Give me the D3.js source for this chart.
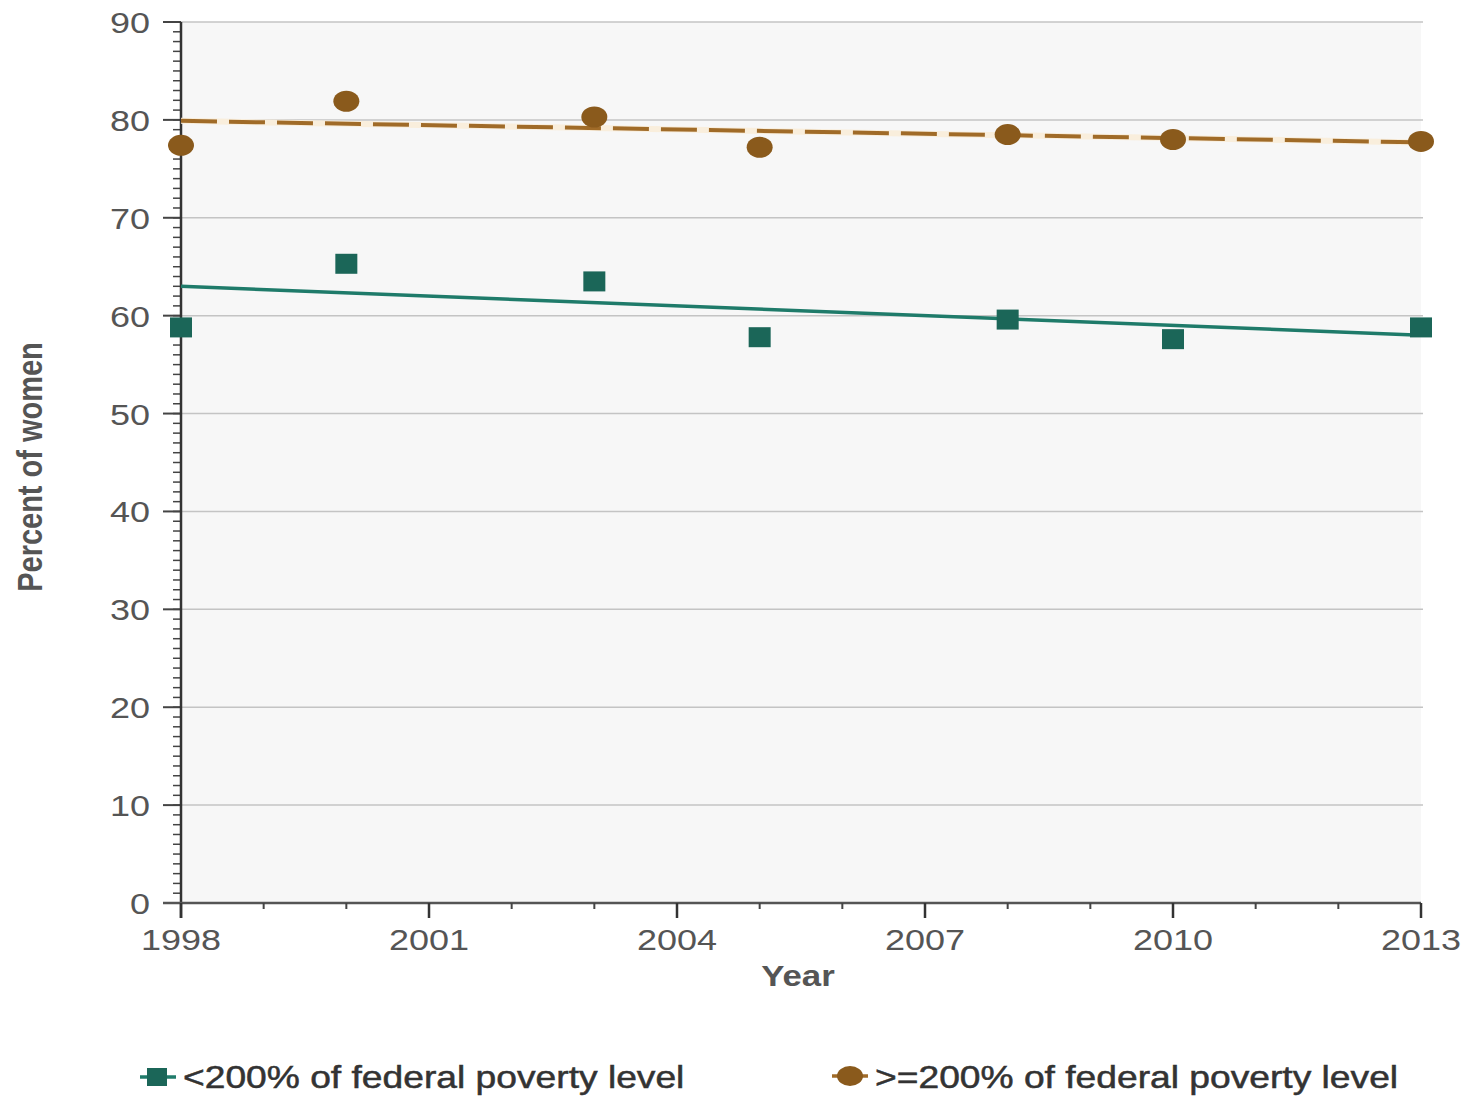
<!DOCTYPE html>
<html>
<head>
<meta charset="utf-8">
<script src="https://cdn.jsdelivr.net/npm/d3@7"></script>
<style>
  body { margin: 0; background: #fff; }
  svg text { font-family: "Liberation Sans", Arial, sans-serif; }
</style>
</head>
<body>
<svg width="1471" height="1097"></svg>
<script>
// data
const years = [1998, 2000, 2003, 2005, 2008, 2010, 2013]
const below200 = [58.8, 65.3, 63.5, 57.8, 59.6, 57.6, 58.8]
const above200 = [77.4, 81.9, 80.3, 77.2, 78.5, 78.0, 77.8]
const trendYears = [1998, 2013]
const belowTrend = [63.0, 58.0]
const aboveTrend = [79.9, 77.7]
const yTicks = [0, 10, 20, 30, 40, 50, 60, 70, 80, 90]
const xTicks = [1998, 2001, 2004, 2007, 2010, 2013]
const legendLabels = ["<200% of federal poverty level", ">=200% of federal poverty level"]

const teal = "#1b6658"
const tealLine = "#1f7b6a"
const brown = "#8a5a1c"
const brownLine = "#a06b28"
const sx = 1.2 // the original image is stretched sideways

const svg = d3.select("svg")
const x = d3.scaleLinear().domain([1998, 2013]).range([181, 1421])
const y = d3.scaleLinear().domain([0, 90]).range([903, 22])

// stretched text helper
function label(g, tx, ty, str, opts) {
  return g.append("text")
    .attr("transform", `translate(${tx},${ty}) scale(${opts.scale || sx},1)`)
    .attr("text-anchor", opts.anchor || "start")
    .attr("font-size", opts.size || 30)
    .attr("font-weight", opts.weight || "normal")
    .attr("fill", opts.fill || "#555")
    .attr("stroke", opts.stroke || "none")
    .attr("stroke-width", opts.stroke ? 0.5 : 0)
    .text(str)
}

// plot background
svg.append("rect")
  .attr("x", x(1998)).attr("y", y(90))
  .attr("width", x(2013) - x(1998)).attr("height", y(0) - y(90))
  .attr("fill", "#f7f7f7")

// gridlines
svg.append("g").selectAll("line")
  .data(yTicks.filter(d => d > 0))
  .join("line")
  .attr("x1", x(1998)).attr("x2", x(2013) + 2)
  .attr("y1", d => y(d)).attr("y2", d => y(d))
  .attr("stroke", "#c4c4c4").attr("stroke-width", 1.5)

// y axis: minor ticks every 1, major every 10
const yAxisG = svg.append("g")
yAxisG.selectAll("line.minor")
  .data(d3.range(0, 91))
  .join("line").attr("class", "minor")
  .attr("x1", x(1998) - 8).attr("x2", x(1998))
  .attr("y1", d => y(d)).attr("y2", d => y(d))
  .attr("stroke", "#444").attr("stroke-width", 1.5)
yAxisG.selectAll("line.major")
  .data(yTicks)
  .join("line").attr("class", "major")
  .attr("x1", x(1998) - 18).attr("x2", x(1998))
  .attr("y1", d => y(d)).attr("y2", d => y(d))
  .attr("stroke", "#444").attr("stroke-width", 2)
yAxisG.append("line")
  .attr("x1", x(1998)).attr("x2", x(1998))
  .attr("y1", y(90)).attr("y2", y(0) + 15)
  .attr("stroke", "#333").attr("stroke-width", 2.5)
yTicks.forEach(t => label(yAxisG, 150, y(t) + 11, String(t), {anchor: "end"}))

// x axis: minor tick each year, major every 3
const xAxisG = svg.append("g")
xAxisG.append("line")
  .attr("x1", x(1998) - 18).attr("x2", x(2013))
  .attr("y1", y(0)).attr("y2", y(0))
  .attr("stroke", "#555").attr("stroke-width", 2.5)
xAxisG.selectAll("line.minor")
  .data(d3.range(1998, 2014))
  .join("line").attr("class", "minor")
  .attr("x1", d => x(d)).attr("x2", d => x(d))
  .attr("y1", y(0)).attr("y2", y(0) + 6)
  .attr("stroke", "#444").attr("stroke-width", 2)
xAxisG.selectAll("line.major")
  .data(xTicks)
  .join("line").attr("class", "major")
  .attr("x1", d => x(d)).attr("x2", d => x(d))
  .attr("y1", y(0)).attr("y2", y(0) + 15)
  .attr("stroke", "#333").attr("stroke-width", 2.5)
xTicks.forEach(t => label(xAxisG, x(t), 950, String(t), {anchor: "middle"}))

// axis titles
label(svg, 798, 986, "Year", {anchor: "middle", weight: "bold", size: 29})
svg.append("text")
  .attr("transform", `translate(42,467) rotate(-90) scale(1,${sx})`)
  .attr("text-anchor", "middle")
  .attr("font-size", 29).attr("font-weight", "bold").attr("fill", "#555")
  .text("Percent of women")

// trend lines
const trend = d3.line().x(d => x(d[0])).y(d => y(d[1]))
svg.append("path")
  .attr("d", trend(d3.zip(trendYears, aboveTrend)))
  .attr("fill", "none").attr("stroke", "#f9eedc").attr("stroke-width", 6)
svg.append("path")
  .attr("d", trend(d3.zip(trendYears, aboveTrend)))
  .attr("fill", "none").attr("stroke", brownLine).attr("stroke-width", 4)
  .attr("stroke-dasharray", "36,12")
svg.append("path")
  .attr("d", trend(d3.zip(trendYears, belowTrend)))
  .attr("fill", "none").attr("stroke", tealLine).attr("stroke-width", 3.5)

// markers
svg.append("g").selectAll("rect")
  .data(d3.zip(years, below200))
  .join("rect")
  .attr("x", d => x(d[0]) - 11).attr("y", d => y(d[1]) - 10)
  .attr("width", 22).attr("height", 20)
  .attr("fill", teal)
svg.append("g").selectAll("ellipse")
  .data(d3.zip(years, above200))
  .join("ellipse")
  .attr("cx", d => x(d[0])).attr("cy", d => y(d[1]))
  .attr("rx", 13).attr("ry", 10.5)
  .attr("fill", brown)

// legend
const leg = svg.append("g")
leg.append("line").attr("x1", 140).attr("x2", 176).attr("y1", 1077).attr("y2", 1077)
  .attr("stroke", tealLine).attr("stroke-width", 3.5)
leg.append("rect").attr("x", 147).attr("y", 1068).attr("width", 20).attr("height", 18).attr("fill", teal)
label(leg, 183, 1088, legendLabels[0], {fill: "#333", size: 31, stroke: "#333"})
leg.append("line").attr("x1", 832).attr("x2", 868).attr("y1", 1076).attr("y2", 1076)
  .attr("stroke", brownLine).attr("stroke-width", 3.5)
leg.append("ellipse").attr("cx", 850).attr("cy", 1076).attr("rx", 13).attr("ry", 10).attr("fill", brown)
label(leg, 875, 1088, legendLabels[1], {fill: "#333", size: 31, stroke: "#333"})
</script>
</body>
</html>
